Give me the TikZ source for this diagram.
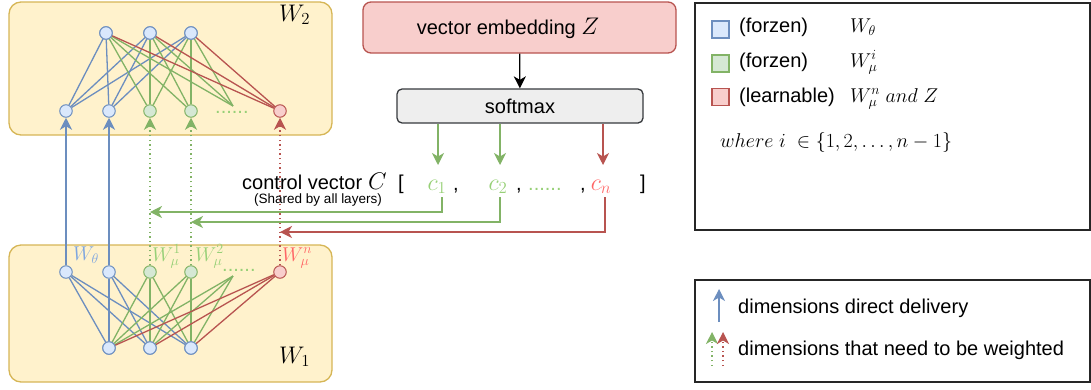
\documentclass[tikz,border=0pt]{standalone}
\usepackage{fix-cm}
\usepackage{fontspec}
\setmainfont{Liberation Sans}
\usetikzlibrary{arrows.meta}
\definecolor{bfill}{HTML}{DAE8FC}\definecolor{bline}{HTML}{6C8EBF}
\definecolor{gfill}{HTML}{D5E8D4}\definecolor{gline}{HTML}{82B366}
\definecolor{rfill}{HTML}{F8CECC}\definecolor{rline}{HTML}{B85450}
\definecolor{yfill}{HTML}{FFF2CC}\definecolor{yline}{HTML}{D6B656}
\definecolor{sfill}{HTML}{EEEEEE}\definecolor{sline}{HTML}{36393D}
\definecolor{gtext}{HTML}{97D077}\definecolor{rtext}{HTML}{FF6666}
\definecolor{btext}{HTML}{7EA6E0}
\newcommand\mainfs{\fontsize{20}{24}\selectfont}
\newcommand\mathfs{\fontsize{24}{28}\selectfont}
\newcommand\smallfs{\fontsize{13.5}{16}\selectfont}
\tikzset{
  every node/.style={inner sep=0pt, font=\mainfs},
  neuron/.style={circle, line width=1pt, minimum size=12.5pt},
  bneuron/.style={neuron, draw=bline, fill=bfill},
  gneuron/.style={neuron, draw=gline, fill=gfill},
  rneuron/.style={neuron, draw=rline, fill=rfill},
  bedge/.style={draw=bline, line width=1.3pt},
  gedge/.style={draw=gline, line width=1.3pt},
  redge/.style={draw=rline, line width=1.3pt},
  arrowtip/.style={-{Stealth[length=12pt,width=12pt,inset=3.5pt]}},
  wdotted/.style={dash pattern=on 1.4pt off 3.2pt},
  layerbox/.style={draw=yline, fill=yfill, line width=1.3pt, rounded corners=12pt},
  legbox/.style={draw=black!85, line width=1.4pt},
  keybox/.style={line width=1.2pt, minimum size=17pt},
}
\begin{document}
\begin{tikzpicture}[x=1pt,y=-1pt]
\useasboundingbox (0,0) rectangle (1091,389);

% ---------- layer boxes ----------
\node[layerbox, minimum width=323pt, minimum height=133pt] (L2) at (170.5,68.5) {};
\node[layerbox, minimum width=323pt, minimum height=137pt] (L1) at (170.5,313.5) {};
\node[anchor=base west, font=\mathfs] (L2lab) at (279,21) {$W_2$};
\node[anchor=base west, font=\mathfs] (L1lab) at (279,363) {$W_1$};

% ---------- upper layer ----------
\node[bneuron] (t1) at (106,33) {};
\node[bneuron] (t2) at (150,33) {};
\node[bneuron] (t3) at (191,33) {};
\node[bneuron] (u1) at (66,111) {};
\node[bneuron] (u2) at (109,111) {};
\node[gneuron] (u3) at (150,111) {};
\node[gneuron] (u4) at (191,111) {};
\node[rneuron] (un) at (280,111) {};
\coordinate (ud) at (233,106);
\node[anchor=base west, text=gtext] (udots) at (215,113) {......};

\foreach \t in {t1,t2,t3} {
  \draw[bedge] (\t) -- (u1);
  \draw[bedge] (\t) -- (u2);
}
\foreach \t in {t1,t2,t3} {
  \draw[gedge] (\t) -- (u3);
  \draw[gedge] (\t) -- (u4);
  \draw[gedge] (\t) -- (ud);
}
\foreach \t in {t1,t2,t3} {
  \draw[redge] (\t) -- (un);
}
\foreach \t in {t1,t2,t3} \node[bneuron] at (\t) {};

% ---------- lower layer ----------
\node[bneuron] (a1) at (66,272) {};
\node[bneuron] (a2) at (109,272) {};
\node[gneuron] (a3) at (150,272) {};
\node[gneuron] (a4) at (191,272) {};
\node[rneuron] (an) at (280,272) {};
\coordinate (ad) at (233,276);
\node[anchor=base west, text=gtext] (adots) at (222,271) {......};
\node[bneuron] (b1) at (109,348) {};
\node[bneuron] (b2) at (150,348) {};
\node[bneuron] (b3) at (191,348) {};

\foreach \b in {b1,b2,b3} {
  \draw[bedge] (a1) -- (\b);
  \draw[bedge] (a2) -- (\b);
}
\foreach \b in {b1,b2,b3} {
  \draw[gedge] (a3) -- (\b);
  \draw[gedge] (a4) -- (\b);
  \draw[gedge] (ad) -- (\b);
}
\foreach \b in {b1,b2,b3} {
  \draw[redge] (an) -- (\b);
}
\foreach \b in {b1,b2,b3} \node[bneuron] at (\b) {};

\node[anchor=base west, text=btext] (wth) at (73,260) {$W_\theta$};
\node[anchor=base west, text=gtext] (wm1) at (152,261) {$W_\mu^1$};
\node[anchor=base west, text=gtext] (wm2) at (195,261) {$W_\mu^2$};
\node[anchor=base west, text=rtext] (wmn) at (282,261) {$W_\mu^n$};

% ---------- passing between layers ----------
\draw[bedge, arrowtip] (a1) -- (u1);
\draw[bedge, arrowtip] (a2) -- (u2);
\draw[gedge, wdotted, arrowtip] (a3) -- (u3);
\draw[gedge, wdotted, arrowtip] (a4) -- (u4);
\draw[redge, wdotted, arrowtip] (an) -- (un);

% ---------- embedding and softmax ----------
\node[draw=rline, fill=rfill, line width=1.3pt, rounded corners=8pt,
      minimum width=313pt, minimum height=51pt] (zb) at (519.5,27.5) {};
\node (zt) at (508,28) {vector embedding {\mathfs$Z$}};
\node[draw=sline, fill=sfill, line width=1.3pt, rounded corners=5pt,
      minimum width=246pt, minimum height=34pt] (sm) at (520,106) {softmax};
\draw[line width=1.3pt, arrowtip] (zb) -- (sm);

% ---------- control vector ----------
\node[anchor=base west] (cvt) at (242,189) {control vector};
\node[anchor=base west, font=\mathfs] (cvC) at (368,189) {$C$};
\node[anchor=base west] (lbr) at (398,189) {[};
\node[anchor=base, font=\smallfs] (shr) at (318,203) {(Shared by all layers)};
\node[anchor=base, text=gtext, font=\mathfs] (c1) at (437,190) {$c_1$};
\node[anchor=base west] (cm1) at (453,190) {,};
\node[anchor=base, text=gtext, font=\mathfs] (c2) at (498,190) {$c_2$};
\node[anchor=base west] (cm2) at (516,190) {,};
\node[anchor=base west, text=gtext] (cdots) at (528,190) {......};
\node[anchor=base west] (cm3) at (580,190) {,};
\node[anchor=base, text=rtext, font=\mathfs] (cn) at (601,190) {$c_n$};
\node[anchor=base west] (rbr) at (640,189) {]};

\draw[gedge, arrowtip] (sm.south -| 438,0) -- (438,165);
\draw[gedge, arrowtip] (sm.south -| 500,0) -- (500,165);
\draw[redge, arrowtip] (sm.south -| 603,0) -- (603,165);

\draw[gedge, arrowtip] (442,197) |- (a3 |- 0,212);
\draw[gedge, arrowtip] (500,197) |- (a4 |- 0,222);
\draw[redge, arrowtip] (605,197) |- (an |- 0,232);

% ---------- legend: colours ----------
\node[legbox, minimum width=395pt, minimum height=227pt] (lg1) at (892.5,116.5) {};
\node[keybox, draw=bline, fill=bfill] (k1) at (720.5,29.5) {};
\node[keybox, draw=gline, fill=gfill] (k2) at (720.5,63.5) {};
\node[keybox, draw=rline, fill=rfill] (k3) at (720.5,97) {};
\node[anchor=base west] (k1t) at (739,32) {(forzen)};
\node[anchor=base west] (k2t) at (739,67) {(forzen)};
\node[anchor=base west] (k3t) at (739,102) {(learnable)};
\node[anchor=base west] (k1m) at (850,32) {$W_\theta$};
\node[anchor=base west] (k2m) at (850,67) {$W_\mu^i$};
\node[anchor=base west] (k3m) at (850,102) {$W_\mu^n\ and\ Z$};
\node[anchor=base west] (whr) at (720,147) {$where\ i\ \in\{1,2,\ldots,n-1\}$};

% ---------- legend: arrows ----------
\node[legbox, minimum width=395pt, minimum height=102pt] (lg2) at (892.5,331) {};
\coordinate (e1a) at (719,322); \coordinate (e1b) at (719,289);
\coordinate (e2a) at (712,366); \coordinate (e2b) at (712,332);
\coordinate (e3a) at (723,366); \coordinate (e3b) at (723,332);
\draw[bedge, arrowtip] (e1a) -- (e1b);
\draw[gedge, wdotted, arrowtip] (e2a) -- (e2b);
\draw[redge, wdotted, arrowtip] (e3a) -- (e3b);
\node[anchor=base west] (d1) at (738,313) {dimensions direct delivery};
\node[anchor=base west] (d2) at (738,355) {dimensions that need to be weighted};
\end{tikzpicture}
\end{document}
